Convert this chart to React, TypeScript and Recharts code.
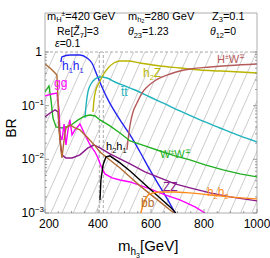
import React from 'react';
import { ComposedChart, Line, XAxis, YAxis, ReferenceLine, ReferenceArea } from 'recharts';

// ---- data (m_h3 in GeV, branching ratios) ----
const mH1H1 = [260, 264, 294, 332, 358.5, 377, 396, 415, 438, 464, 490.5, 521, 558.5, 596, 634, 672, 690.5];
const brH1H1 = [0.651, 0.807, 0.879, 0.879, 0.773, 0.624, 0.373, 0.223, 0.128, 0.0763, 0.0476, 0.0285, 0.0137, 0.00635, 0.00306, 0.00148, 0.001];

const mTT = [351, 355, 362, 373.5, 389, 407.5, 434, 464, 502, 540, 596, 653, 709, 785, 860, 936, 1000];
const brTT = [0.059, 0.103, 0.18, 0.254, 0.314, 0.342, 0.328, 0.276, 0.233, 0.196, 0.145, 0.1075, 0.0796, 0.0542, 0.0384, 0.0273, 0.0211];

const mH2Z = [381, 385, 392, 404, 419, 438, 460, 483, 513, 558.5, 634, 709, 785, 860, 936, 1000];
const brH2Z = [0.0763, 0.128, 0.196, 0.265, 0.373, 0.504, 0.624, 0.68, 0.68, 0.624, 0.548, 0.504, 0.462, 0.443, 0.424, 0.406];

const mHW = [509, 521, 532, 547, 566, 585, 608, 634, 672, 709, 747, 823, 898, 1000];
const brHW = [0.015, 0.0437, 0.0763, 0.112, 0.172, 0.223, 0.276, 0.328, 0.389, 0.443, 0.483, 0.526, 0.561, 0.598];

const mWW = [200, 215, 222.6, 230, 241.5, 264, 294, 325, 351, 370, 389, 407.5, 445, 483, 521, 577, 634, 690.5, 747, 804, 872, 936, 1000];
const brWW = [0.18, 0.233, 0.128, 0.059, 0.0401, 0.0384, 0.0419, 0.0542, 0.0643, 0.0671, 0.0643, 0.0542, 0.0419, 0.031, 0.022, 0.0178, 0.0143, 0.0116, 0.00975, 0.00787, 0.00635, 0.00535, 0.0047];

const mGG = [200, 226, 245, 253, 257, 264, 272, 279, 287, 294, 302, 313, 332, 351, 370, 389, 400, 411, 426, 453, 483, 521, 596, 653, 709, 766, 804];
const brGG = [0.152, 0.165, 0.172, 0.0832, 0.0285, 0.023, 0.0456, 0.0185, 0.0353, 0.0542, 0.0285, 0.0353, 0.0456, 0.0285, 0.0185, 0.0137, 0.0106, 0.00754, 0.00535, 0.0045, 0.00413, 0.00379, 0.00281, 0.00217, 0.00175, 0.0013, 0.001];

const mZZ = [200, 219, 238, 249, 257, 264, 279, 302, 332, 362, 385, 407.5, 445, 483, 521, 577, 634, 690.5, 747, 823, 898, 1000];
const brZZ = [0.0616, 0.0731, 0.0832, 0.0763, 0.023, 0.0121, 0.0106, 0.0106, 0.0121, 0.0163, 0.0185, 0.0163, 0.0126, 0.0102, 0.00821, 0.00583, 0.0045, 0.00348, 0.00293, 0.00237, 0.002, 0.00168];

const mBB = [200, 219, 238, 245, 249, 253, 260, 264, 272, 279, 294, 313, 332, 362, 389, 407.5, 445, 483, 521, 558.5, 596, 634, 672, 687];
const brBB = [0.598, 0.504, 0.406, 0.373, 0.128, 0.0353, 0.015, 0.0106, 0.023, 0.0384, 0.0437, 0.0384, 0.0353, 0.025, 0.0178, 0.0137, 0.00975, 0.00692, 0.0047, 0.0032, 0.00227, 0.00161, 0.00114, 0.001];

const mH2H1 = [407.5, 411, 419, 430, 445, 483, 521, 558.5, 596, 634, 672, 694];
const brH2H1 = [0.00175, 0.00413, 0.00787, 0.0111, 0.0116, 0.00857, 0.00608, 0.00413, 0.00281, 0.00191, 0.0013, 0.001];

const mH2H2 = [562, 570, 581, 596, 634, 690.5, 747, 823, 898, 1000];
const brH2H2 = [0.001, 0.00142, 0.00191, 0.00227, 0.00247, 0.00247, 0.00237, 0.00217, 0.002, 0.00183];

const xTicks = [200, 250, 300, 350, 400, 450, 500, 550, 600, 650, 700, 750, 800, 850, 900, 950, 1000];
const xLabels = [200, 400, 600, 800, 1000];
const yTicks = [0.001, 0.002, 0.003, 0.004, 0.005, 0.006, 0.007, 0.008, 0.009,
  0.01, 0.02, 0.03, 0.04, 0.05, 0.06, 0.07, 0.08, 0.09,
  0.1, 0.2, 0.3, 0.4, 0.5, 0.6, 0.7, 0.8, 0.9, 1];
const thresholds = [405, 420];

const zip = (ms: number[], bs: number[]) => ms.map((m, i) => ({ m, br: bs[i] }));

const series = [
  { name: 'h1h1', data: zip(mH1H1, brH1H1), color: '#2222f0', type: 'monotone' },
  { name: 'tt', data: zip(mTT, brTT), color: '#1fb3bd', type: 'monotone' },
  { name: 'h2Z', data: zip(mH2Z, brH2Z), color: '#b8b400', type: 'monotone' },
  { name: 'HW', data: zip(mHW, brHW), color: '#b55a5a', type: 'monotone' },
  { name: 'WW', data: zip(mWW, brWW), color: '#22b022', type: 'linear' },
  { name: 'gg', data: zip(mGG, brGG), color: '#ff00ff', type: 'linear' },
  { name: 'ZZ', data: zip(mZZ, brZZ), color: '#8a1a8a', type: 'linear' },
  { name: 'bb', data: zip(mBB, brBB), color: '#b06a30', type: 'linear' },
  { name: 'h2h1', data: zip(mH2H1, brH2H1), color: '#000000', type: 'linear' },
  { name: 'h2h2', data: zip(mH2H2, brH2H2), color: '#ff8c1a', type: 'monotone' },
];

const FONT = 'Liberation Sans, Arial, sans-serif';

const isPow10 = (v: number) => Math.abs(Math.log10(v) - Math.round(Math.log10(v))) < 1e-6;

const YTickLeft = (props: any) => {
  const { y, payload } = props;
  const x = 45;
  const v = payload.value;
  const major = isPow10(v);
  const e = Math.round(Math.log10(v));
  return (
    <g>
      <line x1={x} x2={x + (major ? 4 : 2)} y1={y} y2={y} stroke="#888" strokeWidth={0.8} />
      {major && (
        e === 0 ? (
          <text x={x - 3} y={y + 4} textAnchor="end" fontSize={12} fontFamily={FONT} fill="#000">1</text>
        ) : (
          <text x={x - 1} y={y + 4} textAnchor="end" fontSize={12} fontFamily={FONT} fill="#000">
            10<tspan dy={-5} fontSize={8}>{'\u2212' + Math.abs(e)}</tspan>
          </text>
        )
      )}
    </g>
  );
};

const YTickRight = (props: any) => {
  const { y, payload } = props;
  const x = 257;
  const major = isPow10(payload.value);
  return <line x1={x} x2={x - (major ? 4 : 2)} y1={y} y2={y} stroke="#888" strokeWidth={0.8} />;
};

const XTick = (props: any) => {
  const { x, payload } = props;
  const y = 213;
  const v = payload.value;
  const major = xLabels.includes(v);
  return (
    <g>
      <line x1={x} x2={x} y1={y} y2={y - (major ? 4 : 2)} stroke="#888" strokeWidth={0.8} />
      {major && (
        <text x={x + (v === 200 ? 4 : 0)} y={y + 15} textAnchor="middle" fontSize={12} fontFamily={FONT} fill="#000">{v}</text>
      )}
    </g>
  );
};

const HatchShape = (props: any) => {
  const { x, y, width, height } = props;
  return (
    <g>
      <defs>
        <pattern id="hatch" patternUnits="userSpaceOnUse" width={10.2} height={10.2} patternTransform="rotate(24)">
          <line x1={0} y1={0} x2={0} y2={10.2} stroke="#777" strokeWidth={0.7} />
        </pattern>
      </defs>
      <rect x={x} y={y} width={width} height={height} fill="url(#hatch)" stroke="none" />
    </g>
  );
};

const sub = (t: string) => <tspan dy={3} fontSize={7.5}>{t}</tspan>;

export default function App() {
  return (
    <div style={{ position: 'absolute', left: 0, top: 0, width: 270, height: 258, background: '#fff' }}>
      <ComposedChart width={270} height={258} margin={{ top: 13, right: 12, bottom: 44, left: 44 }}>
        <XAxis type="number" dataKey="m" domain={[200, 1000]} ticks={xTicks} interval={0} height={1}
          allowDataOverflow axisLine={false} tickLine={false} tickSize={0} tickMargin={0} tick={<XTick />} />
        <YAxis yAxisId="l" type="number" scale="log" domain={[0.001, 5.33]} ticks={yTicks} interval={0} width={1}
          allowDataOverflow axisLine={false} tickLine={false} tickSize={0} tickMargin={0} tick={<YTickLeft />} />
        <YAxis yAxisId="r" orientation="right" type="number" scale="log" domain={[0.001, 5.33]} ticks={yTicks} interval={0} width={1}
          allowDataOverflow axisLine={false} tickLine={false} tickSize={0} tickMargin={0} tick={<YTickRight />} />
        <ReferenceArea yAxisId="l" x1={200} x2={1000} y1={0.001} y2={1} shape={<HatchShape />} ifOverflow="visible" />
        <ReferenceArea yAxisId="l" x1={200} x2={1000} y1={0.001} y2={5.33} fill="none" stroke="#999" strokeWidth={0.8} ifOverflow="visible" />
        <ReferenceLine yAxisId="l" y={1} stroke="#aaa" strokeDasharray="3 2" strokeWidth={1} />
        {thresholds.map((t) => (
          <ReferenceLine key={t} yAxisId="l" segment={[{ x: t, y: 0.001 }, { x: t, y: 1 }]} stroke="#aaa" strokeDasharray="3 2" strokeWidth={1} />
        ))}
        {series.map((s) => (
          <Line key={s.name} yAxisId="l" data={s.data} dataKey="br" type={s.type as any} stroke={s.color}
            strokeWidth={1.4} dot={false} isAnimationActive={false} />
        ))}
      </ComposedChart>
      <svg width={270} height={258} style={{ position: 'absolute', left: 0, top: 0, pointerEvents: 'none' }} fontFamily={FONT}>
        {/* annotation block */}
        <text x={47} y={20} fontSize={11} fill="#000">m<tspan dy={2} fontSize={7.5}>H</tspan><tspan dy={-6} fontSize={6.5}>±</tspan><tspan dy={4}>=420 GeV</tspan></text>
        <text x={128} y={20} fontSize={11} fill="#000">m<tspan dy={2} fontSize={7.5}>h</tspan><tspan dy={1} fontSize={5.5}>2</tspan><tspan dy={-3}>=280 GeV</tspan></text>
        <text x={212} y={20} fontSize={11} fill="#000">Z<tspan dy={2} fontSize={7.5}>3</tspan><tspan dy={-2}>=0.1</tspan></text>
        <text x={57} y={35} fontSize={10.5} fill="#000">Re[Z̃{sub('7')}<tspan dy={-3}>]=3</tspan></text>
        <text x={128} y={35} fontSize={10.5} fill="#000"><tspan fontStyle="italic">θ</tspan>{sub('23')}<tspan dy={-3}>=1.23</tspan></text>
        <text x={210} y={35} fontSize={10.5} fill="#000"><tspan fontStyle="italic">θ</tspan>{sub('12')}<tspan dy={-3}>=0</tspan></text>
        <text x={55} y={47} fontSize={10.5} fill="#000"><tspan fontStyle="italic">ε</tspan>=0.1</text>
        {/* axis titles */}
        <text x={118} y={251} fontSize={15} fill="#000">m<tspan dy={4} fontSize={10}>h</tspan><tspan dy={3} fontSize={7}>3</tspan><tspan dy={-7}>[GeV]</tspan></text>
        <text transform="translate(16,128) rotate(-90)" textAnchor="middle" fontSize={14} fill="#000">BR</text>
        {/* curve labels */}
        <text x={62} y={70} fontSize={12} fill="#2222f0">h{sub('1')}<tspan dy={-3}>h</tspan>{sub('1')}</text>
        <text x={54} y={87} fontSize={12} fill="#ff00ff">gg</text>
        <text x={121} y={96} fontSize={12} fill="#1fb3bd">t̄t</text>
        <text x={143} y={77} fontSize={12} fill="#b8b400">h{sub('2')}<tspan dy={-3}>Z</tspan></text>
        <text x={217} y={63} fontSize={11} fill="#b55a5a">H<tspan dy={-4} fontSize={7}>±</tspan><tspan dy={4}>W</tspan><tspan dy={-4} fontSize={7}>∓</tspan></text>
        <text x={160} y={158} fontSize={11} fill="#22b022">W<tspan dy={-4} fontSize={7}>±</tspan><tspan dy={4}>W</tspan><tspan dy={-4} fontSize={7}>∓</tspan></text>
        <text x={106} y={150} fontSize={11} fill="#000">h{sub('2')}<tspan dy={-3}>h</tspan>{sub('1')}</text>
        <text x={163} y={191} fontSize={12} fill="#8a1a8a">ZZ</text>
        <text x={207} y={196} fontSize={12} fill="#ff8c1a">h{sub('2')}<tspan dy={-3}>h</tspan>{sub('2')}</text>
        <text x={141} y={207} fontSize={12} fill="#b06a30">b̄b</text>
      </svg>
    </div>
  );
}
